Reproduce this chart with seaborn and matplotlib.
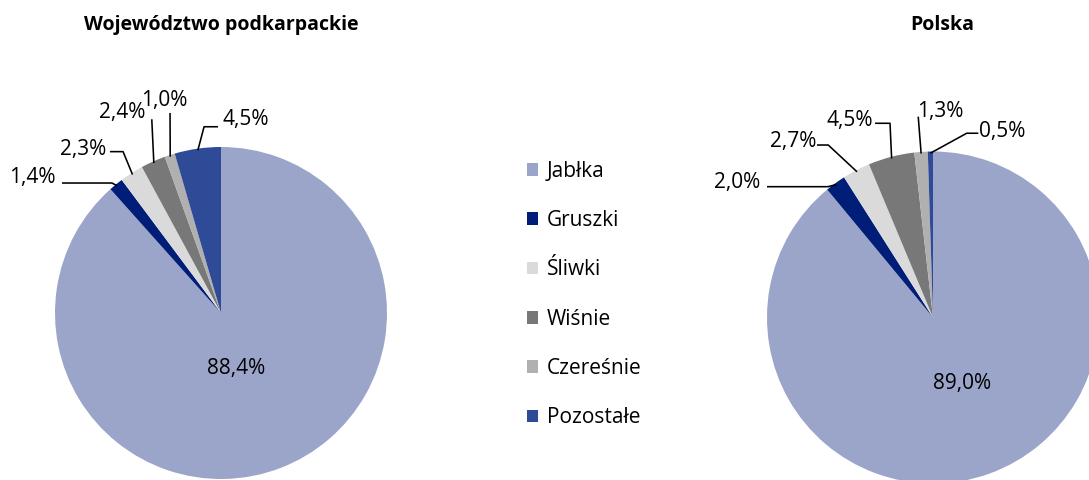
import numpy as np
import matplotlib.pyplot as plt
import seaborn as sns

# Data
categories = ['Jabłka', 'Gruszki', 'Śliwki', 'Wiśnie', 'Czereśnie', 'Pozostałe']
podkarpackie = [88.4, 1.4, 2.3, 2.4, 1.0, 4.5]
polska = [89.0, 2.0, 2.7, 4.5, 1.3, 0.5]
titles = ['Województwo podkarpackie', 'Polska']
colors = ['#9BA5C9', '#001E78', '#DADADA', '#787878', '#B0B0B0', '#2F4A97']

sns.set_theme(style='white')
plt.rcParams['font.family'] = ['Open Sans', 'DejaVu Sans']
plt.rcParams['text.color'] = 'black'

W, H = 1089, 480
R = 166  # pie radius in pixels
FS = 15

fig = plt.figure(figsize=(W / 100, H / 100), dpi=100)


def pie_axes(cx, cy):
    return fig.add_axes([(cx - R) / W, (H - cy - R) / H, 2 * R / W, 2 * R / H])


def fmt(v):
    return f'{v:.1f}%'.replace('.', ',')


# label placement for the small slices: (text, line start, elbow) in pie units
left_layout = [
    ((-1.136, 0.819), (-0.958, 0.783), (-0.657, 0.783)),
    ((-0.828, 0.985), (-0.669, 0.972), (-0.590, 0.972)),
    ((-0.593, 1.205), (-0.417, 1.167), None),
    ((-0.343, 1.283), (-0.307, 1.205), None),
    ((0.151, 1.166), (-0.018, 1.122), (-0.102, 1.122)),
]
right_layout = [
    ((-1.178, 0.813), (-1.000, 0.788), (-0.633, 0.788)),
    ((-0.843, 1.063), (-0.699, 1.039), (-0.631, 1.039)),
    ((-0.500, 1.184), (-0.349, 1.170), (-0.259, 1.170)),
    ((0.042, 1.240), (-0.089, 1.210), None),
    ((0.419, 1.120), (0.273, 1.110), (0.203, 1.110)),
]


def draw_pie(ax, values, big_xy, layout):
    wedges, _ = ax.pie(values, colors=colors, startangle=90, counterclock=False,
                       radius=1, wedgeprops=dict(linewidth=0))
    ax.set_xlim(-1, 1)
    ax.set_ylim(-1, 1)
    ax.set_aspect('equal')
    ax.axis('off')
    ax.text(*big_xy, fmt(values[0]), ha='center', va='center', fontsize=FS, color='black')
    for w, v, (txy, sxy, exy) in zip(wedges[1:], values[1:], layout):
        ang = np.deg2rad((w.theta1 + w.theta2) / 2)
        pts = [sxy] + ([exy] if exy else []) + [(0.99 * np.cos(ang), 0.99 * np.sin(ang))]
        xs, ys = zip(*pts)
        ax.plot(xs, ys, color='black', lw=1.15, clip_on=False, solid_capstyle='butt')
        ax.text(*txy, fmt(v), ha='center', va='center', fontsize=FS, color='black')
    return wedges


ax1 = pie_axes(221, 313)
wedges = draw_pie(ax1, podkarpackie, (0.090, -0.337), left_layout)
ax2 = pie_axes(933, 317.5)
draw_pie(ax2, polska, (0.175, -0.395), right_layout)

fig.text(221 / W, 1 - 25 / H, titles[0], ha='center', va='center',
         fontsize=14, fontweight='bold', color='black')
fig.text(942 / W, 1 - 25 / H, titles[1], ha='center', va='center',
         fontsize=14, fontweight='bold', color='black')

fig.legend(wedges, categories, loc='center left', bbox_to_anchor=(527 / W, 1 - 294.5 / H),
           frameon=False, fontsize=FS, handlelength=0.55, handleheight=0.55,
           handletextpad=0.4, labelspacing=1.36, borderpad=0, borderaxespad=0,
           labelcolor='black')

fig.savefig('out.png', dpi=100)
